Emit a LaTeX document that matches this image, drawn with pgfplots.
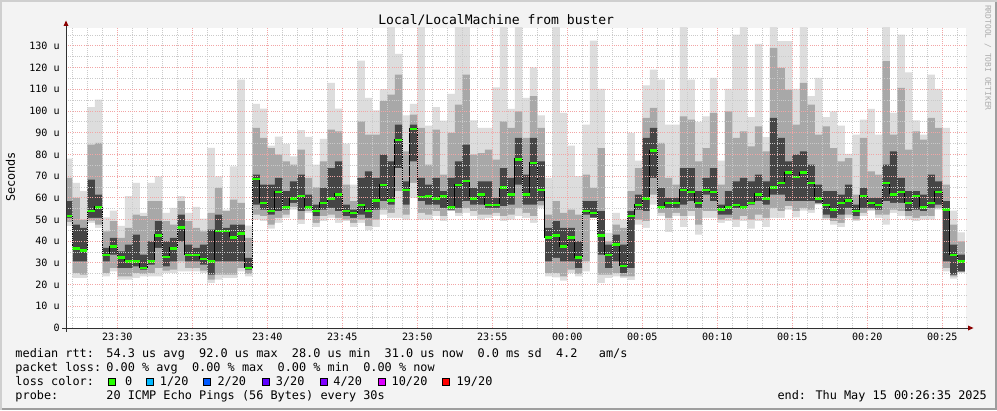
\documentclass[border=0pt]{standalone}
\usepackage{fontspec}
\setmainfont{DejaVu Sans Mono}
\setmonofont{DejaVu Sans Mono}
\usepackage{pgfplots}
\pgfplotsset{compat=1.18}
\usepackage{pgfplotstable}

\definecolor{canvas}{HTML}{F3F3F3}
\definecolor{shadea}{HTML}{CFCFCF}
\definecolor{shadeb}{HTML}{9E9E9E}
\definecolor{mgrid}{RGB}{242,165,165}
\definecolor{mingrid}{HTML}{CACACA}
\definecolor{arrowc}{HTML}{8B0000}
\definecolor{axisc}{HTML}{303030}
\definecolor{smk1}{HTML}{DDDDDD}
\definecolor{smk2}{HTML}{A8A8A8}
\definecolor{smk3}{HTML}{454545}
\definecolor{wmark}{HTML}{ADADAD}
\definecolor{lz}{HTML}{26FF00}
\definecolor{la}{HTML}{00B8FF}
\definecolor{lb}{HTML}{0059FF}
\definecolor{lc}{HTML}{5E00FF}
\definecolor{ld}{HTML}{7E00FF}
\definecolor{le}{HTML}{DD00FF}
\definecolor{lf}{HTML}{FF0000}

\pgfplotstableread{
t max ghi dhi med dlo glo min
-33.5 78.0 69.1 58.4 51.9 50.7 48.8 46.9
-33.0 66.8 59.9 47.6 36.9 30.7 25.3 23.0
-32.5 63.0 49.9 46.1 36.1 30.7 24.6 23.0
-32.0 101.8 84.5 68.4 54.1 50.7 49.5 48.4
-31.5 105.2 85.3 61.4 55.8 50.7 47.6 46.1
-31.0 51.0 44.5 36.9 33.9 30.7 25.3 23.8
-30.5 54.1 49.2 41.5 37.8 33.8 27.6 26.1
-30.0 47.0 41.5 35.3 32.7 27.6 23.8 22.3
-29.5 60.7 46.1 38.4 31.0 27.6 23.8 22.3
-29.0 66.8 52.2 43.0 31.0 28.4 25.3 23.0
-28.5 53.0 51.5 33.8 28.0 26.9 24.9 23.8
-28.0 66.8 58.4 39.9 31.0 29.2 25.3 23.8
-27.5 69.9 58.4 49.2 42.9 36.9 27.6 23.8
-27.0 53.0 49.2 39.9 32.9 28.4 26.4 25.3
-26.5 55.3 47.6 41.5 36.9 30.7 26.9 25.3
-26.0 60.7 58.4 52.2 46.7 39.9 30.7 26.1
-25.5 53.0 49.2 38.4 33.9 30.7 27.6 26.1
-25.0 55.8 46.1 36.9 33.9 30.7 27.6 26.1
-24.5 50.4 44.5 38.4 32.0 29.2 26.4 25.3
-24.0 83.0 53.0 45.3 31.0 24.6 22.3 20.7
-23.5 69.9 64.5 52.2 45.0 30.7 24.6 22.3
-23.0 54.5 53.8 46.1 45.0 30.7 24.6 23.0
-22.5 74.5 59.1 47.6 42.1 30.7 24.6 23.0
-22.0 114.4 57.6 47.6 43.9 30.7 27.6 26.1
-21.5 47.2 41.5 32.3 28.0 26.9 24.9 23.8
-21.0 103.2 92.2 70.7 69.0 56.8 52.2 49.9
-20.5 101.1 87.6 66.1 57.9 54.5 51.5 49.2
-20.0 84.0 82.9 66.1 54.1 52.2 47.6 45.8
-19.5 88.2 79.9 69.1 63.0 53.8 50.7 48.4
-19.0 84.8 76.8 63.0 55.8 54.5 52.2 50.7
-18.5 79.1 75.3 67.6 59.9 57.6 55.8 54.5
-18.0 91.2 82.2 70.7 61.0 53.8 49.9 47.9
-17.5 88.0 69.1 61.4 55.8 55.3 53.8 53.0
-17.0 75.3 64.8 56.8 54.1 51.5 48.4 46.5
-16.5 87.1 76.8 64.5 57.9 54.5 51.5 49.2
-16.0 112.9 91.4 73.7 59.9 55.3 52.2 50.7
-15.5 101.1 90.6 76.8 61.9 53.8 50.7 48.4
-15.0 84.9 66.1 56.8 54.1 51.5 49.9 49.2
-14.5 66.1 58.4 54.5 53.3 50.7 48.4 46.5
-14.0 123.2 95.2 69.1 57.0 52.2 49.9 48.4
-13.5 106.0 89.1 72.2 54.1 50.7 46.9 45.0
-13.0 100.2 89.1 69.1 59.0 54.5 49.9 46.5
-12.5 110.0 104.5 79.9 66.1 58.4 54.5 52.2
-12.0 140 107.5 76.8 59.0 56.8 53.0 50.7
-11.5 126.3 116.7 93.7 86.9 73.7 63.0 50.7
-11.0 98.0 81.4 67.6 63.9 56.8 52.2 49.9
-10.5 103.2 98.3 93.7 91.9 76.8 66.8 59.9
-10.0 140 92.2 69.1 60.7 58.4 53.0 49.9
-9.5 93.2 75.3 66.1 60.8 56.8 52.2 49.9
-9.0 101.8 91.4 69.1 59.9 56.8 53.8 51.5
-8.5 95.5 70.7 63.0 60.8 55.3 51.5 49.2
-8.0 107.8 89.9 69.1 55.8 54.5 54.1 53.8
-7.5 140 102.9 76.8 66.1 55.3 53.0 51.5
-7.0 140 116.7 84.5 68.0 58.4 55.3 53.0
-6.5 95.7 79.9 64.5 59.9 56.8 53.8 51.5
-6.0 92.2 80.6 67.6 61.9 56.8 52.2 49.9
-5.5 92.2 82.2 67.6 57.0 55.3 52.2 50.7
-5.0 110.9 77.6 59.9 57.0 55.3 53.0 51.5
-4.5 140 95.2 73.7 65.0 56.1 51.5 49.2
-4.0 100.9 92.2 69.1 61.9 56.8 52.2 49.9
-3.5 140 99.8 87.6 78.0 66.1 55.3 51.5
-3.0 106.0 87.6 70.7 61.9 56.8 53.0 50.7
-2.5 120.1 106.8 87.6 76.2 56.8 51.5 48.4
-2.0 98.0 92.2 76.8 63.9 58.4 56.5 55.3
-1.5 69.1 52.2 46.1 41.9 30.7 25.3 23.8
-1.0 140 58.4 49.2 42.9 32.3 25.3 23.3
-0.5 99.1 53.0 46.1 37.8 30.7 23.8 21.8
0.0 84.0 54.5 46.1 41.9 30.7 26.9 25.3
0.5 70.0 52.2 39.9 32.7 27.6 24.9 23.8
1.0 93.7 70.7 58.4 54.1 52.2 30.7 26.1
1.5 132.4 64.5 58.4 53.3 50.7 50.7 50.7
2.0 110.1 82.9 53.8 42.9 33.8 24.6 20.7
2.5 43.8 39.9 38.4 33.9 27.6 24.6 23.0
3.0 53.0 47.6 43.0 38.7 30.7 25.3 23.8
3.5 49.9 46.1 38.4 28.9 25.3 23.8 23.0
4.0 89.9 63.0 53.8 51.9 27.6 23.8 22.0
4.5 77.1 73.7 61.4 57.0 54.5 49.9 47.6
5.0 111.8 96.8 87.6 59.9 53.8 49.2 46.1
5.5 119.0 101.4 92.2 82.0 69.1 61.4 56.8
6.0 114.4 85.3 64.5 55.8 55.3 53.0 51.5
6.5 93.7 69.1 59.9 57.9 55.3 50.7 44.2
7.0 93.7 66.1 59.9 57.9 55.3 53.0 51.5
7.5 140 97.5 73.7 63.9 56.8 51.5 46.5
8.0 114.4 96.0 73.7 63.0 58.4 53.8 51.5
8.5 94.9 76.8 63.0 57.9 55.3 47.6 43.0
9.0 97.5 82.9 69.1 63.9 61.4 53.8 50.7
9.5 115.2 99.1 73.7 63.0 58.4 53.8 50.7
10.0 77.1 66.1 56.8 55.0 52.2 49.9 48.4
10.5 110.1 99.8 63.0 55.8 52.2 50.7 49.2
11.0 135.2 87.6 67.6 57.0 55.3 49.9 46.5
11.5 140 90.6 69.1 55.8 55.3 51.5 49.2
12.0 97.1 83.7 67.6 57.9 56.8 49.9 45.8
12.5 130.9 92.9 70.7 61.9 58.4 52.2 49.2
13.0 87.9 81.4 67.6 59.9 56.8 50.7 46.5
13.5 140 129.0 96.8 65.0 61.4 55.3 50.7
14.0 132.1 119.8 87.6 67.0 61.4 53.8 50.7
14.5 132.1 109.8 76.8 71.9 58.4 56.1 54.5
15.0 110.1 93.7 79.9 69.9 58.4 53.8 51.0
15.5 140 112.9 81.4 71.9 58.4 55.3 54.1
16.0 106.8 102.9 75.3 67.0 58.4 54.5 53.0
16.5 115.2 89.1 66.1 59.9 57.6 57.1 56.8
17.0 97.1 92.9 63.0 57.0 52.2 50.7 49.9
17.5 99.8 82.9 63.0 55.0 50.7 49.2 47.6
18.0 93.2 76.8 61.4 57.9 52.2 48.4 46.5
18.5 80.2 78.3 66.1 59.0 55.3 52.2 50.7
19.0 89.1 61.4 56.8 54.1 51.5 49.9 49.2
19.5 96.0 87.6 64.5 61.0 55.3 53.0 51.5
20.0 100.9 72.2 59.9 57.9 55.3 54.5 53.8
20.5 89.1 70.7 59.9 57.0 54.5 52.2 50.7
21.0 140 122.9 75.3 67.0 58.4 52.2 47.6
21.5 99.1 89.1 81.4 61.9 57.6 54.5 53.0
22.0 135.2 110.6 69.1 63.0 57.6 53.8 51.5
22.5 117.8 82.2 63.0 57.9 53.8 51.5 49.9
23.0 95.7 90.6 63.0 61.0 54.5 50.7 49.2
23.5 89.1 86.8 61.4 55.8 53.8 51.5 49.9
24.0 116.7 96.8 70.7 57.9 55.3 51.5 49.9
24.5 110.1 92.2 67.6 63.0 56.8 55.3 54.5
25.0 92.2 66.1 58.4 55.0 30.7 27.6 26.1
25.5 54.1 47.6 38.4 33.9 24.6 23.8 22.7
26.0 44.1 39.9 33.8 31.0 26.1 25.7 25.3
26.5 44.1 39.9 33.8 31.0 26.1 25.7 25.3
}\smoke

\begin{document}
\begin{tikzpicture}[x=1bp,y=1bp]
\fill[canvas] (0,0) rectangle (997,410);
\useasboundingbox (0,0) rectangle (997,410);
\fill[shadea] (0,0) rectangle (2,410);
\fill[shadea] (0,408) rectangle (997,410);
\fill[shadeb] (995,0) rectangle (997,408);
\fill[shadeb] (2,0) rectangle (997,2);

\begin{axis}[
  at={(66bp,82bp)}, anchor=south west,
  scale only axis, width=900bp, height=300bp,
  xmin=-33.4167, xmax=26.5833, ymin=0, ymax=138.2,
  axis background/.style={fill=white},
  axis on top,
  axis line style={draw=none},
  major tick length=0pt, minor tick length=0pt,
  tick style={draw=none},
  xtick={-30,-25,-20,-15,-10,-5,0,5,10,15,20,25},
  xticklabels={23:30,23:35,23:40,23:45,23:50,23:55,00:00,00:05,00:10,00:15,00:20,00:25},
  minor xtick={-33,-32,-31,-29,-28,-27,-26,-24,-23,-22,-21,-19,-18,-17,-16,-14,-13,-12,-11,-9,-8,-7,-6,-4,-3,-2,-1,1,2,3,4,6,7,8,9,11,12,13,14,16,17,18,19,21,22,23,24,26},
  ytick={0,10,20,30,40,50,60,70,80,90,100,110,120,130},
  yticklabels={0,10 u,20 u,30 u,40 u,50 u,60 u,70 u,80 u,90 u,100 u,110 u,120 u,130 u},
  minor ytick={5,15,25,35,45,55,65,75,85,95,105,115,125,135},
  grid=both,
  major grid style={color=mgrid, line width=0.8bp, dash pattern=on 1bp off 1.2bp},
  minor grid style={color=mingrid, line width=0.8bp, dash pattern=on 1bp off 1.2bp},
  ticklabel style={font=\fontsize{10.1}{12}\selectfont},
  xticklabel style={anchor=north, inner sep=0pt, yshift=-5.3bp},
  yticklabel style={anchor=east, inner sep=0pt, xshift=-6.2bp},
]
\addplot[const plot mark left, fill=smk1, draw=none] table[x=t, y=max] {\smoke} \closedcycle;
\addplot[const plot mark left, fill=smk2, draw=none] table[x=t, y=ghi] {\smoke} \closedcycle;
\addplot[const plot mark left, fill=smk3, draw=none] table[x=t, y=dhi] {\smoke} \closedcycle;
\addplot[const plot mark left, fill=smk2, draw=none] table[x=t, y=dlo] {\smoke} \closedcycle;
\addplot[const plot mark left, fill=smk1, draw=none] table[x=t, y=glo] {\smoke} \closedcycle;
\addplot[const plot mark left, fill=white, draw=none] table[x=t, y=min] {\smoke} \closedcycle;
\addplot[const plot mark left, black, line width=0.8bp] table[x=t, y=med] {\smoke};
\addplot[jump mark left, color=lz, line width=2.6bp, yshift=-0.6bp] table[x=t, y=med] {\smoke};
\end{axis}

% axes and arrows
\draw[axisc, line width=1bp] (62,82) -- (969,82);
\draw[axisc, line width=1bp] (66,78) -- (66,385);
\fill[arrowc] (63.5,384) -- (68.5,384) -- (66,389.5) -- cycle;
\fill[arrowc] (968,84.5) -- (968,79.5) -- (973.5,82) -- cycle;

% title, label, watermark
\node[anchor=base, inner sep=0pt, font=\fontsize{13.1}{15}\selectfont] at (496.2,386) {Local/LocalMachine from buster};
\node[rotate=90, anchor=center, inner sep=0pt, font=\fontsize{11.9}{14}\selectfont] at (10.5,233) {Seconds};
\node[rotate=-90, anchor=west, inner sep=0pt, text=wmark, font=\fontsize{8}{10}\selectfont] at (988,405) {RRDTOOL / TOBI OETIKER};

% legend
\begin{scope}[every node/.style={anchor=base west, inner sep=0pt, font=\fontsize{11.9}{14}\selectfont}]
\node at (15.3,52.7) {median rtt:};
\node at (106.2,52.7) {54.3 us avg~~92.0 us max~~28.0 us min~~31.0 us now~~0.0 ms sd~~4.2~~~am/s};
\node at (15.3,38.7) {packet loss:};
\node at (106.2,38.7) {0.00 \% avg~~0.00 \% max~~0.00 \% min~~0.00 \% now};
\node at (15.3,24.7) {loss color:};
\node at (125,24.7) {0};
\node at (159.7,24.7) {1/20};
\node at (217.3,24.7) {2/20};
\node at (275.7,24.7) {3/20};
\node at (333.2,24.7) {4/20};
\node at (391.5,24.7) {10/20};
\node at (456.5,24.7) {19/20};
\node at (15.3,10.7) {probe:};
\node at (106.2,10.7) {20 ICMP Echo Pings (56 Bytes) every 30s};
\node at (777.3,10.7) {end: Thu May 15 00:26:35 2025};
\end{scope}
\begin{scope}[line width=1bp, draw=black]
\filldraw[fill=lz] (108.8,24.5) rectangle (115.8,31.5);
\filldraw[fill=la] (146.2,24.5) rectangle (153.2,31.5);
\filldraw[fill=lb] (203.8,24.5) rectangle (210.8,31.5);
\filldraw[fill=lc] (262.2,24.5) rectangle (269.2,31.5);
\filldraw[fill=ld] (320.5,24.5) rectangle (327.5,31.5);
\filldraw[fill=le] (378.1,24.5) rectangle (385.1,31.5);
\filldraw[fill=lf] (442.7,24.5) rectangle (449.7,31.5);
\end{scope}
\end{tikzpicture}
\end{document}
